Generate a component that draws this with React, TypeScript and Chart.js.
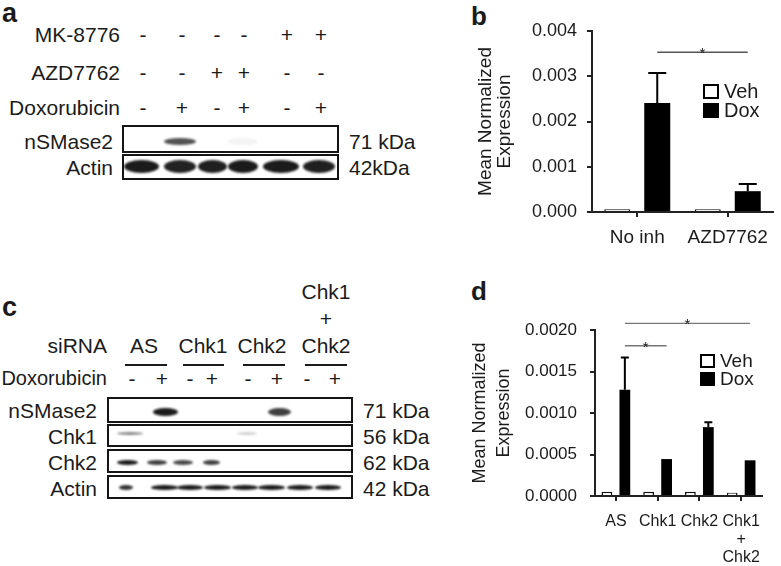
import React, { useEffect, useRef } from "react";
import { Chart, registerables } from "chart.js";
Chart.register(...registerables);

// ---------------- Panel b data ----------------
const bCategories = ["No inh", "AZD7762"];
const bVeh = [0.00006, 0.00006];
const bDox = [0.00241, 0.00046];
const bDoxErr = [0.00066, 0.00016];
const bYTicks = [0, 0.001, 0.002, 0.003, 0.004];
const bYTickLabels = ["0.000", "0.001", "0.002", "0.003", "0.004"];
const bSigPairs = [[0, 1]];
const bSigLevels = [0.00353];

// ---------------- Panel d data ----------------
const dCategories = ["AS", "Chk1", "Chk2", ["Chk1", "+", "Chk2"]];
const dVeh = [0.00005, 0.00005, 0.00005, 0.00004];
const dDox = [0.00128, 0.000445, 0.00083, 0.00043];
const dDoxErr = [0.00039, 0, 0.00006, 0];
const dYTicks = [0, 0.0005, 0.001, 0.0015, 0.002];
const dYTickLabels = ["0.0000", "0.0005", "0.0010", "0.0015", "0.0020"];
const dSigPairs = [[0, 1], [0, 3]];
const dSigLevels = [0.00181, 0.00208];

const seriesNames = ["Veh", "Dox"];
const yTitle = ["Mean Normalized", "Expression"];

// ---------------- Panel a data ----------------
const aRowLabels = ["MK-8776", "AZD7762", "Doxorubicin"];
const aMK = ["-", "-", "-", "-", "+", "+"];
const aAZD = ["-", "-", "+", "+", "-", "-"];
const aDox = ["-", "+", "-", "+", "-", "+"];
const aBlotLabels = ["nSMase2", "Actin"];
const aBlotSizes = ["71 kDa", "42kDa"];
const aNSMase2 = [0, 0.72, 0, 0.05, 0, 0];
const aActin = [0.95, 0.92, 0.93, 0.95, 0.95, 0.93];

// ---------------- Panel c data ----------------
const cSiRNA = [["AS"], ["Chk1"], ["Chk2"], ["Chk1", "+", "Chk2"]];
const cDox = ["-", "+", "-", "+", "-", "+", "-", "+"];
const cBlotLabels = ["nSMase2", "Chk1", "Chk2", "Actin"];
const cBlotSizes = ["71 kDa", "56 kDa", "62 kDa", "42 kDa"];
const cNSMase2 = [0, 0.95, 0, 0, 0, 0.8, 0, 0];
const cChk1 = [0.5, 0, 0, 0, 0.2, 0, 0, 0];
const cChk2 = [0.95, 0.8, 0.75, 0.8, 0, 0, 0, 0];
const cActin = [0.85, 0.95, 0.95, 0.95, 0.95, 0.95, 0.95, 0.95];

// ---------------- styling ----------------
const FONT = "'Liberation Sans', Arial, Helvetica, sans-serif";
const INK = "#1b1b1b";

type PanelCfg = {
  labels: any[];
  veh: number[];
  dox: number[];
  err: number[];
  ticks: number[];
  tickLabels: string[];
  sigPairs: number[][];
  sigLevels: number[];
  yMax: number;
  padTop: number;
  padRight: number;
  yAxisW: number;
  xAxisH: number;
  tickFont: number;
  tickPad: number;
  xFont: number;
  xLineH: number;
  xPad: number;
  titleFont: number;
  titleLineH: number;
  titlePad: number;
  cp: number;
  bp: number;
  capW: number;
  errW: number;
  sigColor: string;
  sigW: number;
  legX: number;
  legY: number;
  legGap: number;
  legBox: number;
  legFont: number;
};

function makeOverlay(cfg: PanelCfg) {
  return {
    id: "overlay",
    afterDatasetsDraw(chart: any) {
      const ctx = chart.ctx;
      const ys = chart.scales.y;
      const doxMeta = chart.getDatasetMeta(1);
      ctx.save();
      // error bars (upper only)
      ctx.strokeStyle = "#000";
      ctx.lineWidth = cfg.errW;
      cfg.err.forEach((e, i) => {
        if (!e) return;
        const el = doxMeta.data[i];
        const yt = ys.getPixelForValue(cfg.dox[i] + e);
        ctx.beginPath();
        ctx.moveTo(el.x, el.y);
        ctx.lineTo(el.x, yt);
        ctx.moveTo(el.x - cfg.capW / 2, yt);
        ctx.lineTo(el.x + cfg.capW / 2, yt);
        ctx.stroke();
      });
      // significance lines
      cfg.sigPairs.forEach((p, k) => {
        const x1 = doxMeta.data[p[0]].x;
        const x2 = doxMeta.data[p[1]].x;
        const yy = ys.getPixelForValue(cfg.sigLevels[k]);
        ctx.strokeStyle = cfg.sigColor;
        ctx.lineWidth = cfg.sigW;
        ctx.beginPath();
        ctx.moveTo(x1, yy);
        ctx.lineTo(x2, yy);
        ctx.stroke();
        ctx.fillStyle = INK;
        ctx.font = `15px ${FONT}`;
        ctx.textAlign = "center";
        ctx.textBaseline = "alphabetic";
        ctx.fillText("*", (x1 + x2) / 2, yy + 6);
      });
      // legend
      chart.data.datasets.forEach((ds: any, i: number) => {
        const bx = cfg.legX;
        const by = cfg.legY + i * cfg.legGap;
        ctx.fillStyle = ds.backgroundColor;
        ctx.fillRect(bx, by, cfg.legBox, cfg.legBox - 1);
        ctx.strokeStyle = "#000";
        ctx.lineWidth = 2;
        ctx.strokeRect(bx + 1, by + 1, cfg.legBox - 2, cfg.legBox - 3);
        ctx.fillStyle = INK;
        ctx.font = `${cfg.legFont}px ${FONT}`;
        ctx.textAlign = "left";
        ctx.textBaseline = "middle";
        ctx.fillText(ds.label, bx + cfg.legBox + 5, by + cfg.legBox / 2);
      });
      ctx.restore();
    },
  };
}

function buildChart(canvas: HTMLCanvasElement, cfg: PanelCfg) {
  const axisColor = "#222";
  return new Chart(canvas, {
    type: "bar",
    data: {
      labels: cfg.labels,
      datasets: [
        {
          label: seriesNames[0],
          data: cfg.veh,
          backgroundColor: "#ffffff",
          borderColor: "#111",
          borderWidth: 1.5,
          categoryPercentage: cfg.cp,
          barPercentage: cfg.bp,
        },
        {
          label: seriesNames[1],
          data: cfg.dox,
          backgroundColor: "#000000",
          borderColor: "#000000",
          borderWidth: 0,
          categoryPercentage: cfg.cp,
          barPercentage: cfg.bp,
        },
      ],
    },
    options: {
      responsive: false,
      animation: false,
      devicePixelRatio: 1,
      layout: { padding: { left: 0, top: cfg.padTop, right: cfg.padRight, bottom: 0 } },
      plugins: { legend: { display: false }, tooltip: { enabled: false } },
      scales: {
        x: {
          offset: true,
          grid: {
            display: true,
            offset: false,
            drawOnChartArea: false,
            drawTicks: true,
            tickLength: 5,
            color: axisColor,
            lineWidth: 2,
          },
          border: { display: true, color: axisColor, width: 2 },
          ticks: {
            color: INK,
            autoSkip: false,
            maxRotation: 0,
            padding: cfg.xPad,
            font: { family: FONT, size: cfg.xFont, lineHeight: cfg.xLineH },
          },
          afterFit: (s: any) => {
            s.height = cfg.xAxisH;
          },
        },
        y: {
          min: 0,
          max: cfg.yMax,
          afterBuildTicks: (s: any) => {
            s.ticks = cfg.ticks.map((v) => ({ value: v }));
          },
          grid: {
            display: true,
            drawOnChartArea: false,
            drawTicks: true,
            tickLength: 5,
            color: axisColor,
            lineWidth: 2,
          },
          border: { display: true, color: axisColor, width: 2 },
          ticks: {
            color: INK,
            padding: cfg.tickPad,
            font: { family: FONT, size: cfg.tickFont },
            callback: (_v: any, i: number) => cfg.tickLabels[i],
          },
          title: {
            display: true,
            text: yTitle,
            color: INK,
            font: { family: FONT, size: cfg.titleFont, lineHeight: cfg.titleLineH },
            padding: { top: cfg.titlePad, bottom: 0 },
          },
          afterFit: (s: any) => {
            s.width = cfg.yAxisW;
          },
        },
      },
    },
    plugins: [makeOverlay(cfg)],
  } as any);
}

function BarPanel({ left, top, width, height, cfg }: any) {
  const ref = useRef<HTMLCanvasElement>(null);
  useEffect(() => {
    const chart = buildChart(ref.current as HTMLCanvasElement, cfg);
    return () => chart.destroy();
  }, []);
  return (
    <canvas
      ref={ref}
      width={width}
      height={height}
      style={{ position: "absolute", left, top, width, height }}
    />
  );
}

const cfgB: PanelCfg = {
  labels: bCategories,
  veh: bVeh,
  dox: bDox,
  err: bDoxErr,
  ticks: bYTicks,
  tickLabels: bYTickLabels,
  sigPairs: bSigPairs,
  sigLevels: bSigLevels,
  yMax: 0.004,
  padTop: 31,
  padRight: 8,
  yAxisW: 152,
  xAxisH: 38,
  tickFont: 18,
  tickPad: 10,
  xFont: 19,
  xLineH: 1.2,
  xPad: 9,
  titleFont: 19,
  titleLineH: 0.97,
  titlePad: 37,
  cp: 0.884,
  bp: 0.65,
  capW: 18,
  errW: 2,
  sigColor: "#555",
  sigW: 1.5,
  legX: 263,
  legY: 84,
  legGap: 19,
  legBox: 16,
  legFont: 20,
};

const cfgD: PanelCfg = {
  labels: dCategories,
  veh: dVeh,
  dox: dDox,
  err: dDoxErr,
  ticks: dYTicks,
  tickLabels: dYTickLabels,
  sigPairs: dSigPairs,
  sigLevels: dSigLevels,
  yMax: 0.002,
  padTop: 50,
  padRight: 19,
  yAxisW: 155,
  xAxisH: 70,
  tickFont: 17,
  tickPad: 13,
  xFont: 16,
  xLineH: 1.12,
  xPad: 12,
  titleFont: 18,
  titleLineH: 1.28,
  titlePad: 29,
  cp: 0.86,
  bp: 0.6,
  capW: 8,
  errW: 2,
  sigColor: "#777",
  sigW: 1.3,
  legX: 260,
  legY: 74,
  legGap: 18,
  legBox: 15,
  legFont: 19,
};

// ---------------- HTML helpers for blots ----------------
function Txt({ x, y, a = "l", s = 21, b = false, children }: any) {
  const tx = a === "l" ? "0" : a === "c" ? "-50%" : "-100%";
  return (
    <div
      style={{
        position: "absolute",
        left: x,
        top: y,
        transform: `translate(${tx}, -50%)`,
        fontSize: s,
        fontWeight: b ? 700 : 400,
        lineHeight: 1,
        whiteSpace: "nowrap",
        color: INK,
        fontFamily: FONT,
      }}
    >
      {children}
    </div>
  );
}

function Box({ x, y, w, h }: any) {
  return (
    <div
      style={{
        position: "absolute",
        left: x,
        top: y,
        width: w,
        height: h,
        boxSizing: "border-box",
        border: "2px solid #151515",
        background: "#fff",
      }}
    />
  );
}

function Bands({ centers, widths, cy, h, values }: any) {
  return (
    <>
      {values.map((k: number, i: number) =>
        k > 0 ? (
          <div
            key={i}
            style={{
              position: "absolute",
              left: centers[i] - widths[i] / 2,
              top: cy - h / 2,
              width: widths[i],
              height: h,
              borderRadius: "50%",
              background: `rgba(15,15,15,${k})`,
              filter: "blur(0.9px)",
            }}
          />
        ) : null
      )}
    </>
  );
}

// layout constants
const aSignX = [143, 182, 217, 244, 287, 321];
const aRowY = [34, 72, 107];
const aBandX = [141, 180, 212, 243, 281, 319];
const aBandW = [35, 32, 29, 30, 36, 32];
const cSignX = [132, 162, 190, 212, 248, 277, 307, 335];
const cGroupX = [144, 203, 262, 326];
const cUnder = [[125, 167], [183, 224], [243, 285], [305, 347]];
const cRowY = [410, 436, 462, 488];

export default function App() {
  const aRows = [aMK, aAZD, aDox];
  return (
    <div
      style={{
        position: "fixed",
        left: 0,
        top: 0,
        width: 781,
        height: 566,
        background: "#fff",
        overflow: "hidden",
        fontFamily: FONT,
      }}
    >
      {/* ---------- panel a ---------- */}
      <Txt x={2} y={13} s={27} b>a</Txt>
      {aRowLabels.map((t, r) => (
        <Txt key={t} x={120} y={aRowY[r]} a="r">{t}</Txt>
      ))}
      {aRows.map((row, r) =>
        row.map((sg, i) => (
          <Txt key={`a${r}-${i}`} x={aSignX[i]} y={aRowY[r]} a="c">{sg}</Txt>
        ))
      )}
      <Box x={122} y={125} w={217} h={28} />
      <Box x={122} y={154} w={217} h={26} />
      <Bands centers={aBandX} widths={aBandW} cy={141} h={7} values={aNSMase2} />
      <Bands centers={aBandX} widths={aBandW} cy={166} h={13} values={aActin} />
      <Txt x={113} y={141} a="r">{aBlotLabels[0]}</Txt>
      <Txt x={113} y={167} a="r">{aBlotLabels[1]}</Txt>
      <Txt x={349} y={141}>{aBlotSizes[0]}</Txt>
      <Txt x={349} y={167}>{aBlotSizes[1]}</Txt>

      {/* ---------- panel c ---------- */}
      <Txt x={2} y={307} s={27} b>c</Txt>
      <Txt x={107} y={345} a="r">siRNA</Txt>
      {cSiRNA.map((lines, g) =>
        lines.map((t, j) => (
          <Txt key={`s${g}-${j}`} x={cGroupX[g]} y={345 - (lines.length - 1 - j) * 27} a="c">{t}</Txt>
        ))
      )}
      {cUnder.map((u, i) => (
        <div
          key={`u${i}`}
          style={{ position: "absolute", left: u[0], top: 364, width: u[1] - u[0], height: 2, background: "#1b1b1b" }}
        />
      ))}
      <Txt x={107} y={378} a="r" s={20}>Doxorubicin</Txt>
      {cDox.map((sg, i) => (
        <Txt key={`cd${i}`} x={cSignX[i]} y={378} a="c">{sg}</Txt>
      ))}
      <Box x={107} y={397} w={246} h={26} />
      <Box x={107} y={424} w={246} h={23} />
      <Box x={107} y={449} w={246} h={24} />
      <Box x={107} y={475} w={246} h={24} />
      <Bands centers={[127, 165, 190, 217, 245, 279, 300, 328]} widths={[24, 25, 24, 24, 24, 23, 24, 24]} cy={412} h={8} values={cNSMase2} />
      <Bands centers={[130, 165, 190, 217, 247, 279, 300, 328]} widths={[26, 24, 24, 24, 20, 24, 24, 24]} cy={433} h={3} values={cChk1} />
      <Bands centers={[127, 157, 183, 211, 245, 272, 300, 328]} widths={[21, 20, 20, 17, 24, 24, 24, 24]} cy={462} h={5} values={cChk2} />
      <Bands centers={[126, 164, 190, 217, 245, 271, 300, 328]} widths={[14, 27, 26, 27, 26, 27, 26, 26]} cy={487} h={5} values={cActin} />
      {cBlotLabels.map((t, i) => (
        <Txt key={`cl${i}`} x={97} y={cRowY[i]} a="r">{t}</Txt>
      ))}
      {cBlotSizes.map((t, i) => (
        <Txt key={`ck${i}`} x={363} y={cRowY[i]}>{t}</Txt>
      ))}

      {/* ---------- panel b ---------- */}
      <Txt x={471} y={16} s={26} b>b</Txt>
      <BarPanel left={440} top={0} width={341} height={250} cfg={cfgB} />

      {/* ---------- panel d ---------- */}
      <Txt x={471} y={291} s={26} b>d</Txt>
      <BarPanel left={440} top={280} width={341} height={286} cfg={cfgD} />
    </div>
  );
}
